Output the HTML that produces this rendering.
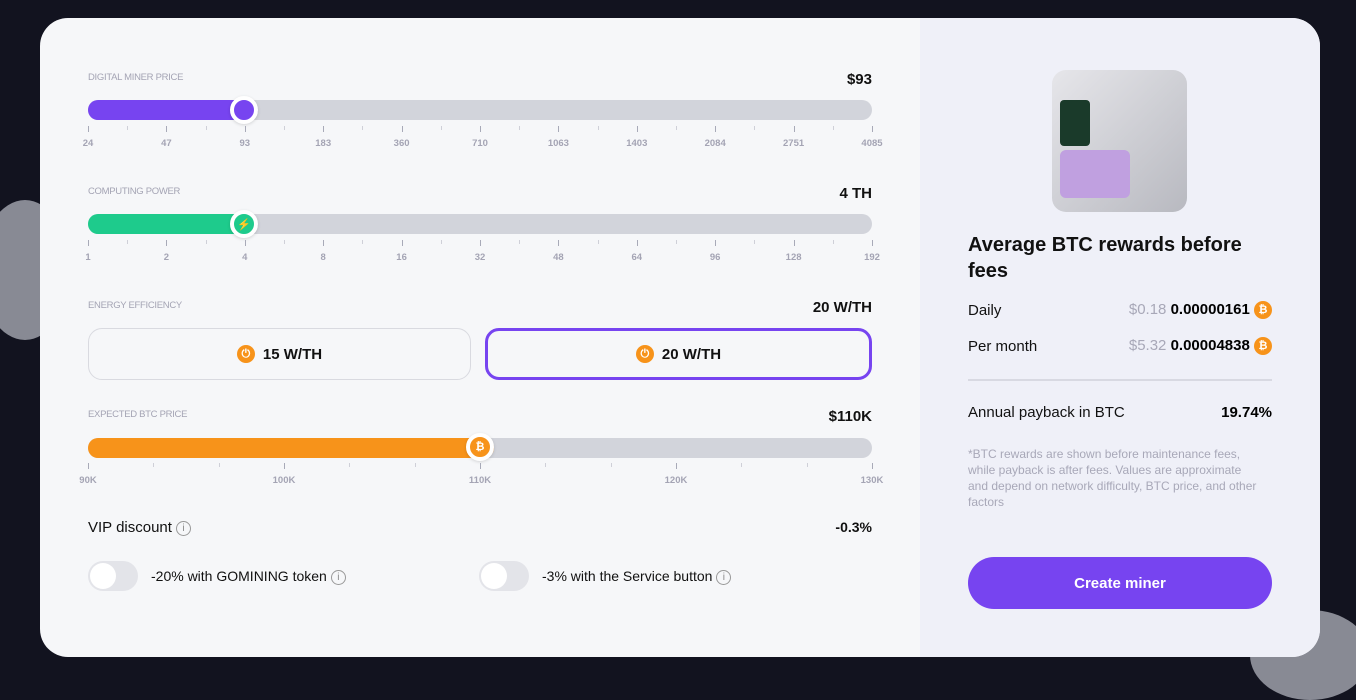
<!DOCTYPE html>
<html><head><meta charset="utf-8"><style>
*{margin:0;padding:0;box-sizing:border-box}
html,body{width:1356px;height:675px}
body{background:#12131f;font-family:"Liberation Sans",sans-serif;position:relative;overflow:hidden}
.abs{position:absolute}
.card{left:40px;top:18px;width:1280px;height:639px;border-radius:28px;background:#f6f7f9;overflow:hidden}
.right{left:920px;top:18px;width:400px;height:639px;background:#eff0f8;border-radius:0 28px 28px 0}
.lab{font-size:9.5px;color:#a4a4b4;letter-spacing:-0.3px}
.val{font-size:15px;font-weight:bold;color:#111;text-align:right;width:200px}
.track{height:20px;border-radius:10px;background:#d2d4db;left:88px;width:784px}
.fill{height:20px;border-radius:10px;left:88px}
.thumb{width:28px;height:28px;border-radius:50%;border:4px solid #fff;box-shadow:0 1px 3px rgba(0,0,0,.15);display:flex;align-items:center;justify-content:center;color:#fff;font-size:11px;font-weight:bold}
.tick{width:1px;background:#a8aab8}
.tl{font-size:9.5px;font-weight:bold;color:#a4a4b4;width:60px;text-align:center;margin-left:-30px}
.btn{height:52px;border-radius:14px;border:1px solid #d9dae0;background:#f6f7f9;display:flex;align-items:center;justify-content:center;font-size:15px;font-weight:bold;color:#111;gap:8px}
.coin{width:18px;height:18px;border-radius:50%;background:#f7931a;color:#fff;font-size:11px;font-weight:bold;display:inline-flex;align-items:center;justify-content:center;vertical-align:middle}
.toggle{width:50px;height:30px;border-radius:15px;background:#e3e4e9}
.toggle:after{content:"";position:absolute;left:2px;top:2px;width:26px;height:26px;border-radius:50%;background:#fff}
.info{display:inline-block;width:15px;height:15px;border:1px solid #999;border-radius:50%;font-size:10px;color:#888;text-align:center;line-height:13px;vertical-align:middle;margin-left:4px}
.t15{font-size:15px;color:#111}
</style></head><body>
<div class="abs" style="left:-20px;top:200px;width:90px;height:140px;border-radius:50%;background:#888a94"></div>
<div class="abs" style="left:1250px;top:610px;width:120px;height:90px;border-radius:50%;background:#888a94"></div>
<div class="abs card"></div>
<div class="abs right"></div>

<div class="abs lab" style="left:88px;top:72px">DIGITAL MINER PRICE</div>
<div class="abs val" style="left:672px;top:71px">$93</div>
<div class="abs track" style="top:100px"></div>
<div class="abs fill" style="top:100px;width:170px;background:#7744f0"></div>
<div class="abs thumb" style="left:230px;top:96px;background:#7744f0"></div>

<div class="abs lab" style="left:88px;top:186px">COMPUTING POWER</div>
<div class="abs val" style="left:672px;top:185px">4 TH</div>
<div class="abs track" style="top:214px"></div>
<div class="abs fill" style="top:214px;width:170px;background:#1ecb8c"></div>
<div class="abs thumb" style="left:230px;top:210px;background:#1ecb8c">⚡</div>

<div class="abs lab" style="left:88px;top:300px">ENERGY EFFICIENCY</div>
<div class="abs val" style="left:672px;top:299px">20 W/TH</div>
<div class="abs btn" style="left:88px;top:328px;width:383px"><span class="coin">⏻</span>15 W/TH</div>
<div class="abs btn" style="left:485px;top:328px;width:387px;border:3px solid #7744f0"><span class="coin">⏻</span>20 W/TH</div>

<div class="abs lab" style="left:88px;top:409px">EXPECTED BTC PRICE</div>
<div class="abs val" style="left:672px;top:408px">$110K</div>
<div class="abs track" style="top:438px"></div>
<div class="abs fill" style="top:438px;width:406px;background:#f7931a"></div>
<div class="abs thumb" style="left:466px;top:433px;background:#f7931a">₿</div>

<div class="abs t15" style="left:88px;top:519px">VIP discount<span class="info">i</span></div>
<div class="abs" style="left:672px;top:519px;width:200px;text-align:right;font-size:14px;font-weight:bold;color:#111">-0.3%</div>
<div class="abs toggle" style="left:88px;top:561px"></div>
<div class="abs" style="left:151px;top:568px;font-size:14px;color:#111">-20% with GOMINING token<span class="info">i</span></div>
<div class="abs toggle" style="left:479px;top:561px"></div>
<div class="abs" style="left:542px;top:568px;font-size:14px;color:#111">-3% with the Service button<span class="info">i</span></div>

<div id="ticks"></div>

<div class="abs" style="left:1052px;top:70px;width:135px;height:142px;border-radius:14px;background:linear-gradient(135deg,#e6e6ea,#b8b9c0)"></div>
<div class="abs" style="left:1060px;top:100px;width:30px;height:46px;background:#1a3a2a;border-radius:4px"></div>
<div class="abs" style="left:1060px;top:150px;width:70px;height:48px;background:#c0a0e0;border-radius:6px"></div>

<div class="abs" style="left:968px;top:232px;font-size:20px;font-weight:bold;color:#111;line-height:26px;width:300px">Average BTC rewards before fees</div>
<div class="abs t15" style="left:968px;top:302px">Daily</div>
<div class="abs" style="left:1000px;top:301px;width:272px;text-align:right;font-size:15px"><span style="color:#a8a8b8">$0.18</span> <b>0.00000161</b> <span class="coin">₿</span></div>
<div class="abs t15" style="left:968px;top:338px">Per month</div>
<div class="abs" style="left:1000px;top:337px;width:272px;text-align:right;font-size:15px"><span style="color:#a8a8b8">$5.32</span> <b>0.00004838</b> <span class="coin">₿</span></div>
<div class="abs" style="left:968px;top:379px;width:304px;height:2px;background:#d8d9e2"></div>
<div class="abs t15" style="left:968px;top:404px">Annual payback in BTC</div>
<div class="abs" style="left:1100px;top:404px;width:172px;text-align:right;font-size:15px;font-weight:bold">19.74%</div>
<div class="abs" style="left:968px;top:446px;width:290px;font-size:12px;line-height:16px;color:#a8a8b8">*BTC rewards are shown before maintenance fees, while payback is after fees. Values are approximate and depend on network difficulty, BTC price, and other factors</div>
<div class="abs" style="left:968px;top:557px;width:304px;height:52px;border-radius:26px;background:#7744f0;color:#fff;font-size:15px;font-weight:bold;display:flex;align-items:center;justify-content:center">Create miner</div>

<script>
var h='';
function sl(top,labels,sub){
 var n=labels.length-1,step=784/n;
 for(var i=0;i<=n;i++){var x=88+i*step;
  h+='<div class="abs tick" style="left:'+x+'px;top:'+top+'px;height:6px"></div>';
  h+='<div class="abs tl" style="left:'+x+'px;top:'+(top+12)+'px">'+labels[i]+'</div>';
  if(i<n)for(var j=1;j<sub;j++)h+='<div class="abs tick" style="left:'+(x+step*j/sub)+'px;top:'+top+'px;height:4px;background:#cfd0d8"></div>';}
}
sl(126,['24','47','93','183','360','710','1063','1403','2084','2751','4085'],2);
sl(240,['1','2','4','8','16','32','48','64','96','128','192'],2);
sl(463,['90K','100K','110K','120K','130K'],3);
document.getElementById('ticks').innerHTML=h;
</script>
</body></html>
